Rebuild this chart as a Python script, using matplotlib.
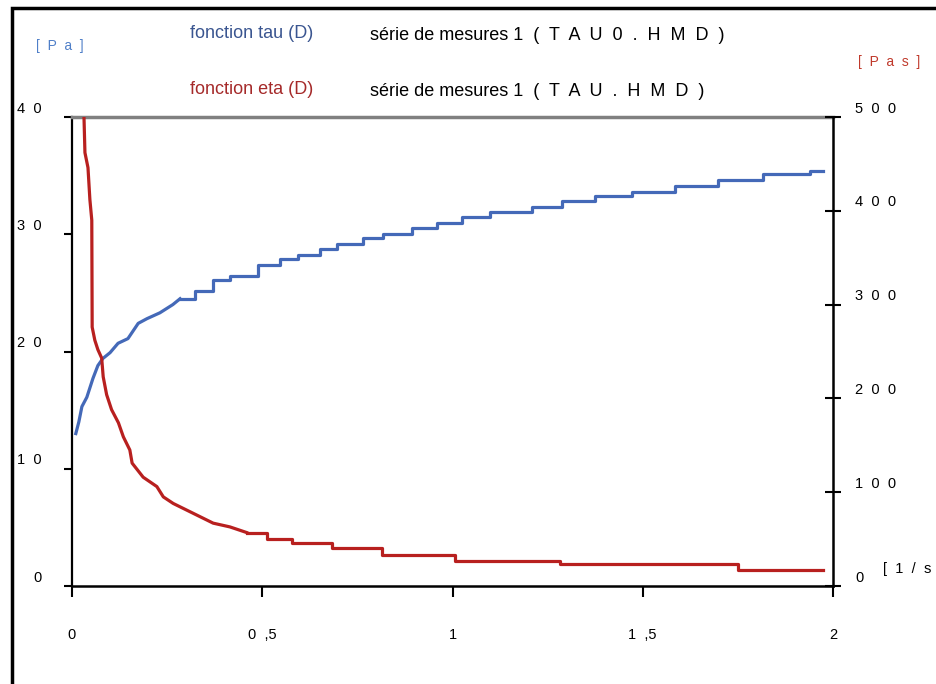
import matplotlib
matplotlib.use('Agg')
import matplotlib.pyplot as plt
import matplotlib.transforms as mtransforms
from matplotlib.patches import Rectangle

# fonction tau (D) -- shear stress [Pa], left axis
tau_D = [0.010, 0.018, 0.026, 0.039, 0.055, 0.068, 0.081, 0.100, 0.121, 0.147,
         0.174, 0.197, 0.231, 0.265, 0.284, 0.323, 0.371, 0.415, 0.489, 0.547,
         0.594, 0.652, 0.696, 0.765, 0.817, 0.894, 0.959, 1.025, 1.099, 1.209,
         1.288, 1.375, 1.472, 1.585, 1.698, 1.816, 1.940, 1.974]
tau = [13.0, 14.0, 15.3, 16.1, 17.7, 18.8, 19.4, 19.9, 20.7, 21.1,
       22.4, 22.8, 23.3, 24.0, 24.5, 25.2, 26.1, 26.4, 27.4, 27.9,
       28.2, 28.7, 29.2, 29.7, 30.0, 30.5, 31.0, 31.5, 31.9, 32.3,
       32.8, 33.3, 33.6, 34.1, 34.6, 35.1, 35.4, 35.4]

# fonction eta (D) -- viscosity [Pa s], right axis
eta_D = [0.0315, 0.034, 0.042, 0.047, 0.052, 0.053, 0.060, 0.068, 0.078, 0.082,
         0.091, 0.104, 0.122, 0.135, 0.152, 0.158, 0.187, 0.223, 0.240, 0.266,
         0.301, 0.336, 0.371, 0.415, 0.459, 0.512, 0.578, 0.683, 0.815, 1.007,
         1.283, 1.750, 1.974]
eta = [500, 462, 446, 412, 390, 276, 262, 252, 243, 223,
       204, 188, 174, 159, 145, 131, 116, 106, 95, 88,
       81, 74, 67, 63, 57, 50, 46, 40, 33, 27,
       23.5, 17, 17]

x_ticks = [0, 0.5, 1, 1.5, 2]
x_labels = ['0', '0  ,5', '1', '1  ,5', '2']
left_ticks = [0, 10, 20, 30, 40]
left_labels = ['0', '1  0', '2  0', '3  0', '4  0']
right_ticks = [0, 100, 200, 300, 400, 500]
right_labels = ['0', '1  0  0', '2  0  0', '3  0  0', '4  0  0', '5  0  0']

blue = '#4469b8'
red = '#b8201f'

plt.rcParams['font.family'] = ['Liberation Sans', 'DejaVu Sans']

W, H = 936, 684
fig = plt.figure(figsize=(W / 100, H / 100), dpi=100)
fig.patch.set_facecolor('white')

def fx(px):
    return px / W

def fy(py):
    return 1 - py / H

ax = fig.add_axes([fx(72), fy(586), (833 - 72) / W, (586 - 117) / H])
ax2 = ax.twinx()

# steep start drawn as a plain line, the rest as the stair steps of the recorder
kb = 14
ax.plot(tau_D[:kb + 1], tau[:kb + 1], color=blue, lw=2.3, solid_joinstyle='round')
ax.plot(tau_D[kb:], tau[kb:], color=blue, lw=2.3, drawstyle='steps-post')
kr = 24
ax2.plot(eta_D[:kr + 1], eta[:kr + 1], color=red, lw=2.3, solid_joinstyle='round')
ax2.plot(eta_D[kr:], eta[kr:], color=red, lw=2.3, drawstyle='steps-post')

ax.set_xlim(0, 2)
ax.set_ylim(0, 40)
ax2.set_ylim(0, 500)

for a in (ax, ax2):
    for s in a.spines.values():
        s.set_visible(False)
ax.spines['left'].set_visible(True)
ax.spines['bottom'].set_visible(True)
ax.spines['top'].set_visible(True)
ax2.spines['right'].set_visible(True)
ax.spines['left'].set_linewidth(1.6)
ax.spines['bottom'].set_linewidth(1.8)
ax.spines['top'].set_linewidth(2.5)
ax.spines['top'].set_color('#808080')
ax2.spines['right'].set_linewidth(1.8)

ax.set_xticks(x_ticks)
ax.set_xticklabels(x_labels)
ax.set_yticks(left_ticks)
ax.set_yticklabels(left_labels)
ax2.set_yticks(right_ticks)
ax2.set_yticklabels(right_labels)

ax.tick_params(axis='x', direction='out', length=8, width=1.5, pad=22, labelsize=10.5)
ax.tick_params(axis='y', direction='out', length=6, width=1.5, pad=16, labelsize=10.5)
ax2.tick_params(axis='y', direction='inout', length=12, width=1.5, pad=10, labelsize=10.5)

# labels sit a little above their ticks
up = mtransforms.ScaledTranslation(0, 10 / 100, fig.dpi_scale_trans)
for lab in ax.get_yticklabels() + ax2.get_yticklabels():
    lab.set_transform(lab.get_transform() + up)

# outer frame
fig.add_artist(Rectangle((fx(12), -0.1), 1.1, fy(8) + 0.1, transform=fig.transFigure,
                         fill=False, lw=2.5, edgecolor='black'))

# header
fig.text(fx(36), fy(46), '[  P  a  ]', color='#4f7fc8', fontsize=10, va='center')
fig.text(fx(190), fy(34), 'fonction tau (D)', color='#3a5590', fontsize=13, va='center')
fig.text(fx(370), fy(36), 'série de mesures 1  (  T  A  U  0  .  H  M  D  )',
         color='black', fontsize=13, va='center')
fig.text(fx(858), fy(62), '[  P  a  s  ]', color='#c0392b', fontsize=10, va='center')
fig.text(fx(190), fy(90), 'fonction eta (D)', color='#a52a2a', fontsize=13, va='center')
fig.text(fx(370), fy(92), 'série de mesures 1  (  T  A  U  .  H  M  D  )',
         color='black', fontsize=13, va='center')
fig.text(fx(883), fy(569), '[  1  /  s', color='black', fontsize=10.5, va='center')

fig.savefig('out.png', dpi=100)
plt.close('all')
